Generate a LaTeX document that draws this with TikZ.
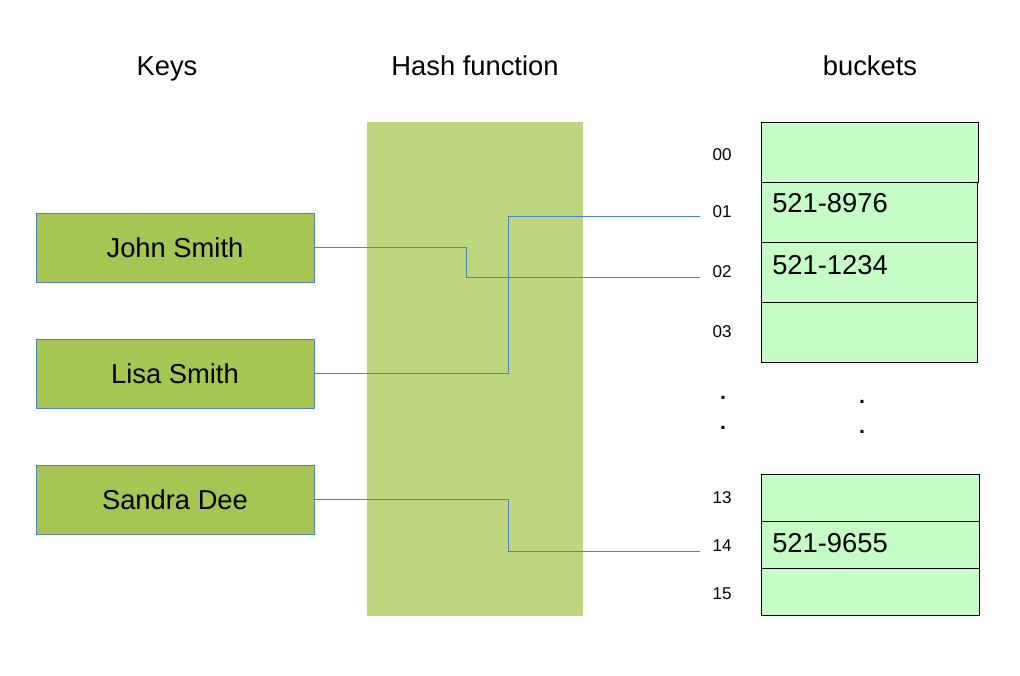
\documentclass[tikz,border=0pt]{standalone}
\usepackage{fontspec}
\setmainfont{Liberation Sans}
\begin{document}
\begin{tikzpicture}[x=0.75pt,y=-0.75pt,
  keybox/.style={draw=keyline,fill=keyfill,line width=0.6pt,minimum width=208.5pt,minimum height=51.75pt,inner sep=0pt,font=\fontsize{20.5}{24}\selectfont},
  bucket/.style={draw=black,fill=bucketfill,line width=0.6pt,inner sep=0pt},
  idx/.style={font=\fontsize{12.8}{15}\selectfont,inner sep=0pt},
  dotmark/.style={font=\fontsize{16}{18}\selectfont\bfseries,inner sep=0pt},
  val/.style={font=\fontsize{20.5}{24}\selectfont,inner sep=0pt,anchor=west},
  head/.style={font=\fontsize{20.5}{24}\selectfont,inner sep=0pt,anchor=base},
  conn/.style={draw=keyline,line width=0.7pt}
]
\definecolor{keyfill}{HTML}{A5C653}
\definecolor{keyline}{HTML}{4F81BD}
\definecolor{hashfill}{HTML}{BDD67E}
\definecolor{bucketfill}{HTML}{C6FDC6}
\useasboundingbox (0,0) rectangle (1020,675);

% headers
\node[head] (hkeys) at (167,75) {Keys};
\node[head] (hhash) at (475,75) {Hash function};
\node[head] (hbuck) at (870,75) {buckets};

% hash function block
\fill[hashfill] (367,122) rectangle (583,616);

% key boxes
\node[keybox] (john) at (175,247.5) {John Smith};
\node[keybox] (lisa) at (175,373.5) {Lisa Smith};
\node[keybox] (sandra) at (175,499.5) {Sandra Dee};

% buckets upper group
\draw[bucket] (761,122) rectangle (978,182);
\draw[bucket] (761,182) rectangle (977,242);
\draw[bucket] (761,242) rectangle (977,302);
\draw[bucket] (761,302) rectangle (977,362);
% buckets lower group
\draw[bucket] (761,474) rectangle (979,521);
\draw[bucket] (761,521) rectangle (979,568);
\draw[bucket] (761,568) rectangle (979,615);

% values
\node[val] (v01) at (772,203) {521-8976};
\node[val] (v02) at (772,265) {521-1234};
\node[val] (v14) at (772,543) {521-9655};

% indices
\node[idx] (i00) at (722,155) {00};
\node[idx] (i01) at (722,212) {01};
\node[idx] (i02) at (722,272) {02};
\node[idx] (i03) at (722,332) {03};
\node[dotmark] (d1) at (723,398) {.};
\node[dotmark] (d2) at (723,428) {.};
\node[dotmark] (d3) at (862,402) {.};
\node[dotmark] (d4) at (862,432) {.};
\node[idx] (i13) at (722,498) {13};
\node[idx] (i14) at (722,546) {14};
\node[idx] (i15) at (722,594) {15};

% connector end points
\coordinate (e01) at (700,216);
\coordinate (e02) at (700,277);
\coordinate (e14) at (700,551);

% connectors
\draw[conn] (john.east) -- (466,247.5) |- (e02);
\draw[conn] (lisa.east) -- (508,373.5) |- (e01);
\draw[conn] (sandra.east) -- (508,499.5) |- (e14);
\end{tikzpicture}
\end{document}
